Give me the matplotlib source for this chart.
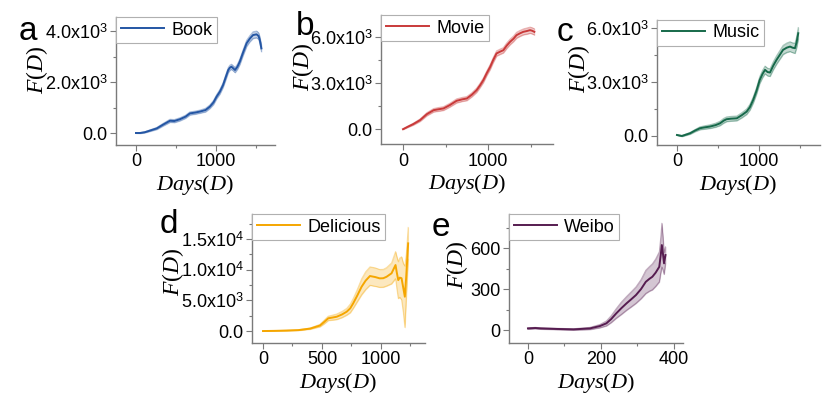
import matplotlib
matplotlib.use('Agg')
from matplotlib import pyplot as plt
from matplotlib.ticker import MultipleLocator, FuncFormatter

plt.rcParams['font.family'] = ['Liberation Sans', 'DejaVu Sans']
plt.rcParams['mathtext.fontset'] = 'custom'
plt.rcParams['mathtext.rm'] = 'Liberation Serif'
plt.rcParams['mathtext.it'] = 'Liberation Serif:italic'
plt.rcParams['mathtext.sf'] = 'Liberation Sans'

# ---- data ----
book_x = [0, 50, 110, 180, 260, 340, 425, 480, 550, 620, 675, 740, 800, 870, 925, 970, 1010, 1050,
          1090, 1125, 1155, 1175, 1195, 1220, 1240, 1270, 1300, 1340, 1385, 1425, 1465, 1510, 1535, 1550, 1570]
book_y = [0, 0, 30, 100, 180, 330, 480, 470, 540, 640, 770, 800, 840, 900, 1035, 1200, 1430, 1620,
          1880, 2200, 2470, 2560, 2600, 2530, 2470, 2600, 2800, 3150, 3520, 3700, 3840, 3870, 3800, 3650, 3320]
book_err = [10, 15, 20, 30, 40, 50, 60, 60, 60, 60, 60, 60, 60, 70, 70, 80, 80, 90,
            90, 100, 100, 100, 100, 100, 100, 100, 110, 110, 120, 120, 130, 130, 130, 130, 130]

movie_x = [0, 60, 120, 200, 280, 360, 420, 475, 550, 630, 700, 750, 810, 865, 905, 945, 985, 1025,
           1060, 1100, 1140, 1180, 1220, 1260, 1300, 1335, 1375, 1415, 1455, 1495, 1520, 1545]
movie_y = [0, 170, 330, 590, 980, 1240, 1300, 1350, 1570, 1850, 1950, 2000, 2250, 2540, 2850, 3200, 3650, 4060,
           4500, 4940, 5050, 5150, 5450, 5700, 5900, 6130, 6250, 6350, 6400, 6460, 6420, 6350]
movie_err = [20, 40, 60, 80, 100, 110, 120, 120, 120, 130, 130, 130, 130, 140, 140, 150, 150, 160,
             160, 170, 170, 170, 180, 180, 180, 190, 190, 190, 200, 200, 200, 200]

music_x = [0, 60, 160, 220, 280, 340, 400, 470, 525, 570, 605, 660, 730, 790, 850, 890, 930, 970,
           1010, 1045, 1075, 1105, 1135, 1175, 1215, 1255, 1295, 1340, 1380, 1410, 1440, 1460, 1480]
music_y = [55, 0, 150, 300, 430, 480, 520, 600, 700, 850, 930, 960, 980, 1150, 1350, 1600, 2000, 2500,
           3110, 3450, 3670, 3550, 3520, 3900, 4220, 4500, 4780, 4900, 4960, 4900, 4870, 5200, 5700]
music_err = [20, 30, 50, 60, 80, 90, 100, 110, 120, 130, 130, 130, 130, 140, 150, 160, 170, 180,
             190, 200, 210, 210, 210, 220, 230, 240, 250, 260, 270, 270, 280, 300, 320]

deli_x = [0, 100, 200, 300, 400, 483, 520, 553, 590, 625, 670, 710, 740, 765, 800, 836, 870, 907,
          950, 990, 1020, 1048, 1090, 1124, 1135, 1147, 1160, 1175, 1190, 1203, 1215, 1231]
deli_y = [0, 30, 80, 150, 400, 900, 1500, 2070, 2200, 2330, 2700, 3150, 3700, 4510, 5800, 7210, 8200, 8960,
          8800, 8580, 8600, 8840, 9400, 10750, 9500, 8300, 8700, 8600, 7000, 5590, 9000, 14280]
deli_err = [0, 20, 40, 60, 100, 200, 300, 350, 400, 450, 500, 550, 700, 800, 1000, 1300, 1450, 1500,
            1500, 1450, 1450, 1500, 1700, 2200, 2600, 3000, 3200, 3500, 4000, 5000, 3500, 2600]

weibo_x = [0, 20, 35, 80, 125, 170, 197, 215, 228, 242, 256, 270, 283, 296, 310, 323, 333, 341,
           350, 360, 364, 367, 370, 373, 377]
weibo_y = [12, 15, 12, 8, 5, 12, 29, 49, 80, 122, 160, 195, 225, 256, 300, 353, 375, 390,
           420, 463, 550, 622, 560, 488, 549]
weibo_err = [5, 5, 5, 5, 5, 8, 12, 18, 25, 35, 45, 50, 55, 60, 70, 85, 90, 95,
             100, 110, 130, 160, 120, 80, 60]


def sci_fmt(v, pos):
    if v == 0:
        return '0.0'
    e = len(str(int(abs(v)))) - 1
    return '{:.1f}x10$^{{\\mathsf{{{}}}}}$'.format(v / 10 ** e, e)


def int_fmt(v, pos):
    return '{:d}'.format(int(v))


panels = [
    # letter, name, x, y, err, colour, axes rect, xlim, ylim, x step, y step, y format,
    # panel letter position, y label position (axes coords)
    ('a', 'Book', book_x, book_y, book_err, '#2456a4', [0.1396, 0.642, 0.191, 0.316],
     (-250, 1737), (-470, 4549), 1000, 2000, sci_fmt, (0.034, 0.922), (-0.50, 0.585)),
    ('b', 'Movie', movie_x, movie_y, movie_err, '#c93a3a', [0.4585, 0.644, 0.207, 0.3185],
     (-259, 1765), (-978, 7436), 1000, 3000, sci_fmt, (0.367, 0.935), (-0.455, 0.597)),
    ('c', 'Music', music_x, music_y, music_err, '#16694a', [0.7906, 0.642, 0.196, 0.309],
     (-244, 1744), (-500, 6444), 1000, 3000, sci_fmt, (0.68, 0.92), (-0.48, 0.61)),
    ('d', 'Delicious', deli_x, deli_y, deli_err, '#f5a600', [0.3033, 0.153, 0.208, 0.3185],
     (-93, 1373), (-1954, 19055), 500, 5000, sci_fmt, (0.203, 0.445), (-0.46, 0.55)),
    ('e', 'Weibo', weibo_x, weibo_y, weibo_err, '#561c50', [0.6125, 0.153, 0.2094, 0.3185],
     (-52, 425), (-95, 849), 200, 300, int_fmt, (0.531, 0.438), (-0.30, 0.61)),
]

fig = plt.figure(figsize=(8.31, 4.05), dpi=100)
spine_col = '#7a7a7a'

for letter, name, xs, ys, es, col, rect, xl, yl, xm, ym, fmt, lpos, ylpos in panels:
    ax = fig.add_axes(rect)
    lo = [y - e for y, e in zip(ys, es)]
    hi = [y + e for y, e in zip(ys, es)]
    ax.fill_between(xs, lo, hi, facecolor=col, alpha=0.25, edgecolor=col, linewidth=0.6)
    ax.plot(xs, lo, color=col, alpha=0.35, linewidth=0.7)
    ax.plot(xs, hi, color=col, alpha=0.35, linewidth=0.7)
    ax.plot(xs, ys, color=col, linewidth=1.4, label=name)

    ax.set_xlim(*xl)
    ax.set_ylim(*yl)
    ax.xaxis.set_major_locator(MultipleLocator(xm))
    ax.xaxis.set_minor_locator(MultipleLocator(xm / 2))
    ax.yaxis.set_major_locator(MultipleLocator(ym))
    ax.yaxis.set_minor_locator(MultipleLocator(ym / 2))
    ax.yaxis.set_major_formatter(FuncFormatter(fmt))

    for s in ['top', 'right']:
        ax.spines[s].set_visible(False)
    for s in ['left', 'bottom']:
        ax.spines[s].set_color(spine_col)
        ax.spines[s].set_linewidth(1.0)
    ax.tick_params(which='major', direction='out', length=4, width=0.8, color=spine_col,
                   labelsize=13, pad=2)
    ax.tick_params(which='minor', direction='out', length=2.5, width=0.8, color=spine_col)

    ax.set_xlabel(r'$Days(D)$', fontsize=16, labelpad=2)
    ax.set_ylabel(r'$F(D)$', fontsize=17, va='center')
    ax.yaxis.set_label_coords(*ylpos)

    leg = ax.legend(loc='upper left', fontsize=13, frameon=True, fancybox=False,
                    borderaxespad=0, handlelength=2.4, handletextpad=0.4,
                    borderpad=0.25, framealpha=1)
    leg.get_frame().set_edgecolor('#b0b0b0')
    leg.get_frame().set_linewidth(0.8)

    fig.text(lpos[0], lpos[1], letter, fontsize=24, ha='center', va='center')

fig.savefig('out.png', dpi=100)
